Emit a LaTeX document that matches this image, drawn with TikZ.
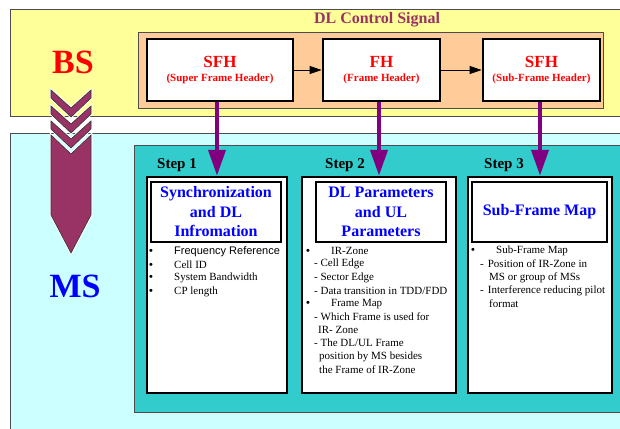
\documentclass[tikz,border=0pt]{standalone}
\usepackage{fontspec}
\setmainfont{Liberation Serif}
\newfontfamily\arialfont{Liberation Sans}
\usetikzlibrary{arrows.meta, positioning}
\definecolor{bsyellow}{HTML}{FFFF99}
\definecolor{ctrlorange}{HTML}{FFCC99}
\definecolor{mscyan}{HTML}{CCFFFF}
\definecolor{stepteal}{HTML}{33CCCC}
\definecolor{plum}{HTML}{993366}
\definecolor{arrowpurple}{HTML}{800080}
\tikzstyle{area}=[draw=black!70,line width=0.8pt,inner sep=0pt]
\tikzstyle{header}=[draw=black,line width=2.7pt,fill=white,minimum height=62pt,align=center,text=red,font=\bfseries,inner sep=0pt]
\tikzstyle{stepbox}=[draw=black,line width=2.5pt,fill=white,minimum height=216pt,inner sep=0pt]
\tikzstyle{titlebox}=[draw=black,line width=2.5pt,fill=white,minimum height=60pt,align=center,text=blue,font=\fontsize{16}{19.5}\selectfont\bfseries,inner sep=0pt]
\tikzstyle{steplabel}=[font=\fontsize{15}{17}\selectfont\bfseries]
\tikzstyle{item}=[anchor=west,inner sep=0pt,font=\fontsize{11}{13}\selectfont]
\tikzstyle{chevron}=[fill=plum,draw=black!80,line width=0.6pt,preaction={draw=white,line width=2.5pt}]
\tikzstyle{mainedge}=[{Triangle[width=8pt,length=12pt]}-,line width=0.8pt]
\tikzstyle{downedge}=[-{Triangle[width=17pt,length=26pt]},line width=4pt,draw=arrowpurple]
\newcommand{\itemdot}{\makebox[25pt][l]{\bfseries\textbullet}}
\newcommand{\hdrbig}[1]{{\fontsize{17}{19}\selectfont #1}}
\newcommand{\hdrsmall}[1]{{\fontsize{11}{14}\selectfont #1}}

\begin{document}
\begin{tikzpicture}[x=1pt,y=-1pt]
\clip (0,0) rectangle (620,428);
% backgrounds
\node[area,fill=bsyellow,minimum width=620pt,minimum height=107pt] (bsarea) at (320,62.5) {};
\node[area,fill=ctrlorange,minimum width=465pt,minimum height=76pt] (ctrl) at (370.5,70) {};
\node[area,fill=mscyan,minimum width=620pt,minimum height=310pt] (msarea) at (320,288) {};
\node[area,fill=stepteal,minimum width=496pt,minimum height=267pt] (steps) at (382,278.5) {};
% BS / MS
\node[text=red,font=\fontsize{34}{36}\selectfont\bfseries] (bs) at (73,62) {BS};
\node[text=blue,font=\fontsize{34}{36}\selectfont\bfseries] (ms) at (75,286) {MS};
\node[text=plum,font=\fontsize{16}{18}\selectfont\bfseries] (ctrltitle) at (377,20) {DL Control Signal};
% chevrons
\filldraw[chevron] (51,90) -- (71,108) -- (91,90) -- (91,98) -- (71,117) -- (51,98) -- cycle;
\filldraw[chevron] (51,106) -- (71,124) -- (91,106) -- (91,114) -- (71,133) -- (51,114) -- cycle;
\filldraw[chevron] (51,121) -- (71,139) -- (91,121) -- (91,129) -- (71,148) -- (51,129) -- cycle;
\filldraw[chevron] (51,135) -- (71,154) -- (91,135) -- (91,215) -- (71,253) -- (51,215) -- cycle;
% headers
\node[header,minimum width=146pt] (sfh) at (220,70) {\hdrbig{SFH}\\[2pt]\hdrsmall{(Super Frame Header)}};
\node[header,minimum width=117pt] (fh) at (381.5,70) {\hdrbig{FH}\\[2pt]\hdrsmall{(Frame Header)}}
  edge[mainedge] (sfh);
\node[header,minimum width=117pt] (subsfh) at (541.5,70) {\hdrbig{SFH}\\[2pt]\hdrsmall{(Sub-Frame Header)}}
  edge[mainedge] (fh);
% steps
\node[stepbox,minimum width=140pt] (s1) at (217,285) {};
\node[stepbox,minimum width=154pt] (s2) at (379,285) {};
\node[stepbox,minimum width=144pt] (s3) at (540,285) {};
\node[steplabel] (l1) at (177,165) {Step 1};
\node[steplabel] (l2) at (345,165) {Step 2};
\node[steplabel] (l3) at (504,165) {Step 3};
\node[titlebox,minimum width=130pt] (t1) at (216,212) {Synchronization\\and DL\\Infromation};
\node[titlebox,minimum width=130pt] (t2) at (381,212) {DL Parameters\\and UL\\Parameters};
\node[titlebox,minimum width=135pt] (t3) at (539.5,212) {Sub-Frame Map};
\draw[downedge] (sfh.south -| s1.north) -- (s1.north);
\draw[downedge] (fh.south -| s2.north) -- (s2.north);
\draw[downedge] (subsfh.south -| s3.north) -- (s3.north);
% step 1 items
\node[item] (i1_1) at (149,252) {\itemdot\arialfont Frequency Reference};
\node[item] (i1_2) at (149,265) {\itemdot Cell ID};
\node[item] (i1_3) at (149,278) {\itemdot System Bandwidth};
\node[item] (i1_4) at (149,292) {\itemdot CP length};
% step 2 items
\node[item] (i2_1) at (306,251) {\itemdot IR-Zone};
\node[item] (i2_2) at (314,264) {- Cell Edge};
\node[item] (i2_3) at (314,278) {- Sector Edge};
\node[item] (i2_4) at (314,291) {- Data transition in TDD/FDD};
\node[item] (i2_5) at (306,304) {\itemdot Frame Map};
\node[item] (i2_6) at (314,317) {- Which Frame is used for};
\node[item] (i2_7) at (318,330) {IR- Zone};
\node[item] (i2_8) at (314,343) {- The DL/UL Frame};
\node[item] (i2_9) at (319,357) {position by MS besides};
\node[item] (i2_10) at (319,370) {the Frame of IR-Zone};
% step 3 items
\node[item] (i3_1) at (471,251) {\itemdot Sub-Frame Map};
\node[item] (i3_2) at (480,264) {-\hspace{4pt}Position of IR-Zone in};
\node[item] (i3_3) at (489,278) {MS or group of MSs};
\node[item] (i3_4) at (480,291) {-\hspace{4pt}Interference reducing pilot};
\node[item] (i3_5) at (489,304) {format};
\end{tikzpicture}
\end{document}
